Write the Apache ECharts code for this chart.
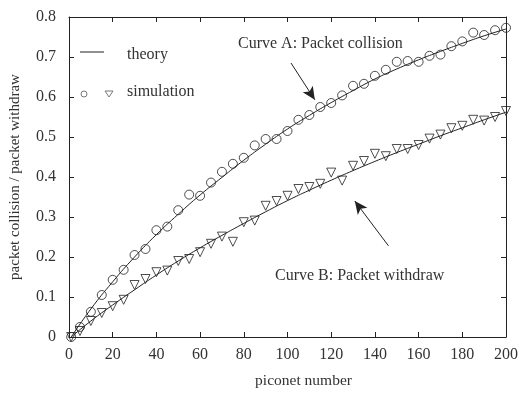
<!DOCTYPE html>
<html>
<head>
<meta charset="utf-8">
<script src="https://cdn.jsdelivr.net/npm/echarts@6/dist/echarts.min.js"></script>
<style>
  html, body { margin: 0; padding: 0; background: #fff; }
  #chart { width: 522px; height: 394px; }
</style>
</head>
<body>
<div id="chart"></div>
<script>
// piconet numbers where the simulation was sampled
var simX = [1, 5, 10, 15, 20, 25, 30, 35, 40, 45, 50, 55, 60, 65, 70, 75, 80, 85, 90, 95, 100,
  105, 110, 115, 120, 125, 130, 135, 140, 145, 150, 155, 160, 165, 170, 175, 180, 185, 190, 195, 200];
// curve A simulation (circles)
var simCollision = [0.0, 0.025, 0.063, 0.105, 0.143, 0.168, 0.205, 0.22, 0.267, 0.276, 0.317,
  0.356, 0.353, 0.386, 0.413, 0.433, 0.448, 0.479, 0.495, 0.495, 0.515,
  0.543, 0.555, 0.575, 0.585, 0.604, 0.628, 0.633, 0.653, 0.668, 0.688,
  0.69, 0.688, 0.703, 0.706, 0.727, 0.739, 0.761, 0.755, 0.767, 0.773];
// curve B simulation (triangles)
var simWithdraw = [0.0, 0.015, 0.04, 0.06, 0.077, 0.093, 0.13, 0.145, 0.162, 0.166, 0.19,
  0.195, 0.212, 0.233, 0.251, 0.238, 0.287, 0.291, 0.328, 0.34, 0.353,
  0.37, 0.375, 0.383, 0.411, 0.391, 0.428, 0.44, 0.458, 0.452, 0.47,
  0.47, 0.48, 0.496, 0.506, 0.522, 0.528, 0.543, 0.541, 0.55, 0.565];

// theory curves
var theoryX = [1, 10, 20, 30, 40, 50, 60, 70, 80, 90, 100, 110, 120, 130, 140, 150, 160, 170, 180, 190, 200];
var theoryCollision = [0.0, 0.07, 0.138, 0.2, 0.256, 0.307, 0.355, 0.399, 0.442, 0.482, 0.52,
  0.554, 0.586, 0.616, 0.645, 0.67, 0.693, 0.714, 0.734, 0.753, 0.77];
var theoryWithdraw = [0.0, 0.04, 0.08, 0.118, 0.155, 0.19, 0.223, 0.254, 0.284, 0.313, 0.341,
  0.367, 0.392, 0.416, 0.439, 0.461, 0.482, 0.503, 0.523, 0.543, 0.562];

function pairs(xs, ys) {
  return xs.map(function (x, i) { return [x, ys[i]]; });
}

var ink = '#222';
var serif = '"Liberation Serif", "DejaVu Serif", serif';

var boxAxis = function (pos, isX) {
  var a = {
    type: 'value',
    position: pos,
    min: 0,
    max: isX ? 200 : 0.8,
    interval: isX ? 20 : 0.1,
    axisLine: { show: true, onZero: false, lineStyle: { color: ink, width: 1 } },
    axisTick: { show: true, inside: true, length: 5, lineStyle: { color: ink } },
    axisLabel: { show: false },
    splitLine: { show: false }
  };
  return a;
};

var xMain = boxAxis('bottom', true);
xMain.axisLabel = { show: true, color: '#333', fontFamily: serif, fontSize: 16, margin: 10 };
xMain.name = 'piconet number';
xMain.nameLocation = 'middle';
xMain.nameGap = 36;
xMain.nameTextStyle = { color: '#333', fontFamily: serif, fontSize: 15.5, padding: [0, 0, 0, 32] };

var yMain = boxAxis('left', false);
yMain.axisLabel = {
  show: true, color: '#333', fontFamily: serif, fontSize: 16, margin: 13,
  formatter: function (v) { return v === 0 ? '0' : v.toFixed(1); }
};
yMain.name = 'packet collision / packet withdraw';
yMain.nameLocation = 'middle';
yMain.nameGap = 46;
yMain.nameTextStyle = { color: '#333', fontFamily: serif, fontSize: 15 };

var hollow = { color: 'rgba(0,0,0,0)', borderColor: ink, borderWidth: 1 };

var myChart = echarts.init(document.getElementById('chart'));
var option = {
  animation: false,
  backgroundColor: '#fff',
  grid: { left: 66, right: 16, top: 17, bottom: 55 },
  xAxis: [xMain, boxAxis('top', true)],
  yAxis: [yMain, boxAxis('right', false)],
  series: [
    {
      name: 'theory A', type: 'line', smooth: true, showSymbol: false,
      data: pairs(theoryX, theoryCollision),
      lineStyle: { color: ink, width: 1 },
      markLine: {
        silent: true, symbol: ['none', 'arrow'], symbolSize: [9, 13],
        label: { show: false },
        lineStyle: { color: ink, width: 1, type: 'solid' },
        data: [
          [{ coord: [101.6, 0.685] }, { coord: [112.5, 0.593] }],
          [{ coord: [146.2, 0.228] }, { coord: [130.8, 0.34] }]
        ]
      }
    },
    {
      name: 'theory B', type: 'line', smooth: true, showSymbol: false,
      data: pairs(theoryX, theoryWithdraw),
      lineStyle: { color: ink, width: 1 }
    },
    {
      name: 'simulation A', type: 'scatter', symbol: 'circle', symbolSize: 9,
      data: pairs(simX, simCollision),
      itemStyle: hollow
    },
    {
      name: 'simulation B', type: 'scatter', symbol: 'triangle', symbolRotate: 180, symbolSize: 9,
      data: pairs(simX, simWithdraw),
      itemStyle: hollow
    }
  ],
  graphic: [
    { type: 'line', shape: { x1: 80, y1: 52, x2: 104, y2: 52 }, style: { stroke: ink, lineWidth: 1 } },
    { type: 'text', left: 127, top: 47, style: { text: 'theory', font: '16px ' + serif, fill: '#333' } },
    { type: 'circle', shape: { cx: 84, cy: 94, r: 3 }, style: { fill: 'none', stroke: '#777', lineWidth: 1 } },
    { type: 'polygon', shape: { points: [[105, 91], [113, 91], [109, 97]] }, style: { fill: 'none', stroke: '#777', lineWidth: 1 } },
    { type: 'text', left: 127, top: 84, style: { text: 'simulation', font: '16px ' + serif, fill: '#333' } },
    { type: 'text', left: 238, top: 36, style: { text: 'Curve A: Packet collision', font: '16px ' + serif, fill: '#333' } },
    { type: 'text', left: 275, top: 268, style: { text: 'Curve B: Packet withdraw', font: '16px ' + serif, fill: '#333' } }
  ]
};
myChart.setOption(option);
</script>
</body>
</html>
